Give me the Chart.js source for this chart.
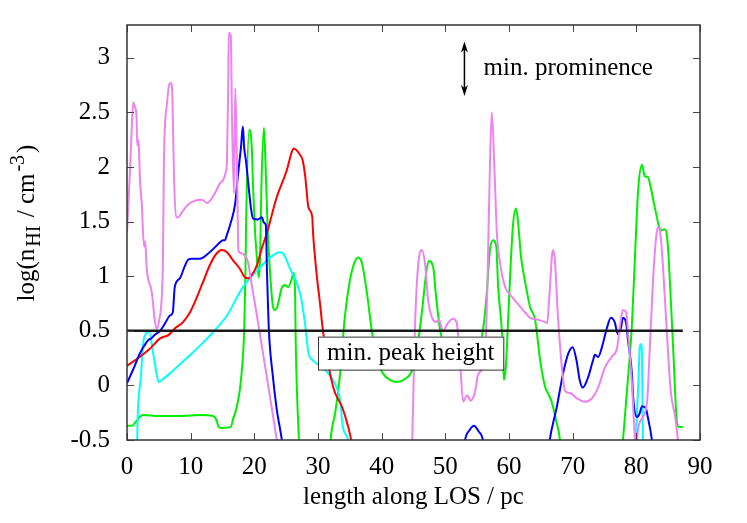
<!DOCTYPE html>
<html>
<head>
<meta charset="utf-8">
<script src="https://cdn.jsdelivr.net/npm/chart.js@4/dist/chart.umd.min.js"></script>
<style>
  html, body { margin: 0; padding: 0; background: #fff; }
  #wrap { width: 747px; height: 523px; }
</style>
</head>
<body>
<div id="wrap"><canvas id="chart" width="747" height="523"></canvas></div>
<script>
// tick values
const xTicks = [0, 10, 20, 30, 40, 50, 60, 70, 80, 90];
const yTicks = [-0.5, 0, 0.5, 1, 1.5, 2, 2.5, 3];

// curves, [length (pc), log n]
const violet = [
  [0, 1.40], [0.5, 2.0], [0.8, 2.43], [1.0, 2.59], [1.26, 2.55], [1.5, 2.45], [1.6, 2.2], [1.73, 2.25], [1.85, 2.2],
  [2.04, 1.88], [2.36, 1.63], [2.5, 1.42], [2.7, 1.27], [2.85, 1.32], [3.1, 1.07], [3.9, 0.85], [4.4, 0.58], [4.7, 0.52],
  [5.0, 0.58], [5.5, 0.85], [5.65, 1.17], [5.8, 2.06], [6.3, 2.59], [6.6, 2.75], [6.9, 2.77], [7.1, 2.7], [7.2, 2.43],
  [7.4, 1.88], [7.7, 1.54], [8.0, 1.54], [8.8, 1.6], [9.9, 1.67], [11.8, 1.70], [12.6, 1.67], [13.8, 1.76], [14.6, 1.85],
  [15.1, 1.88], [15.5, 1.95], [15.7, 2.06], [15.9, 2.73], [16.0, 3.23], [16.3, 3.2], [16.5, 2.43], [16.8, 1.76], [17.0, 2.72],
  [17.2, 2.28], [17.4, 1.51], [17.5, 1.24], [17.9, 1.21], [18.5, 1.19], [19.0, 1.13], [19.6, 0.92], [20.4, 0.64], [21.4, 0.28],
  [22.5, -0.12], [23.5, -0.49], [24.5, -0.9],
  [44.2, -0.9], [44.8, -0.5], [45.2, 0.48], [45.7, 1.08], [46.3, 1.24], [46.8, 1.12], [47.3, 0.78], [47.9, 0.62], [48.6, 0.58],
  [49.0, 0.6], [49.6, 0.5], [50.4, 0.57], [51.2, 0.61], [51.8, 0.57], [52.3, 0.23], [52.8, -0.15], [53.4, -0.09], [54.0, -0.14],
  [54.7, -0.05], [55.1, 0.09], [55.7, 0.14], [56.2, 0.25], [56.6, 0.9], [57.0, 2.0], [57.3, 2.5], [57.7, 2.0], [58.1, 1.39],
  [58.6, 1.12], [59.4, 0.9], [60.2, 0.83], [60.9, 0.78], [62.2, 0.69], [63.3, 0.62], [64.6, 0.6], [65.7, 0.58], [66.0, 0.57],
  [66.3, 0.78], [66.9, 1.24], [67.2, 1.15], [67.7, 0.62], [68.3, 0.17], [68.8, -0.05], [69.6, -0.07], [70.7, -0.12], [71.9, -0.15],
  [73.0, -0.12], [74.0, -0.02], [75.1, 0.17], [76.1, 0.26], [77.0, 0.35], [77.4, 0.53], [77.9, 0.69], [78.4, 0.67], [78.7, 0.48],
  [79.3, 0.02], [79.8, -0.5], [80.0, -0.56], [80.3, -0.39], [81.0, -0.29], [81.7, -0.14], [82.1, 0.32], [82.6, 0.94], [83.1, 1.35],
  [83.4, 1.45], [83.7, 1.42], [84.2, 1.08], [84.8, 0.48], [85.4, -0.05], [86.1, -0.29], [86.5, -0.48], [87.0, -0.8]
];

const blue = [
  [0, 0.02], [1.0, 0.15], [2.0, 0.29], [3.0, 0.39], [3.45, 0.42], [3.8, 0.43], [4.3, 0.46], [5.2, 0.5], [6.0, 0.57],
  [6.75, 0.64], [7.2, 0.67], [7.5, 0.9], [8.3, 0.98], [9.0, 1.08], [9.6, 1.15], [10.2, 1.16], [11.5, 1.16], [13.0, 1.22],
  [14.1, 1.28], [15.1, 1.33], [15.4, 1.33], [15.7, 1.38], [16.2, 1.47], [17.0, 1.67], [17.4, 1.91], [17.9, 2.18], [18.2, 2.37],
  [18.4, 2.18], [18.7, 2.05], [19.0, 1.88], [19.5, 1.61], [19.8, 1.53], [20.6, 1.52], [21.2, 1.54], [21.5, 1.49], [21.8, 1.47],
  [22.0, 1.01], [22.3, 0.49], [22.9, 0.09], [23.5, -0.21], [24.3, -0.49], [25.0, -0.8],
  [52.5, -0.8], [53.1, -0.5], [53.8, -0.41], [54.5, -0.37], [55.2, -0.42], [55.9, -0.5], [56.5, -0.8],
  [65.8, -0.8], [66.4, -0.5], [67.5, -0.2], [68.5, 0.11], [69.3, 0.29], [70.0, 0.35], [70.6, 0.23], [71.1, 0.05], [71.6, -0.02],
  [72.4, 0.07], [73.2, 0.23], [73.5, 0.28], [74.0, 0.26], [74.6, 0.35], [75.4, 0.53], [76.0, 0.62], [76.6, 0.58], [77.1, 0.47],
  [77.6, 0.53], [77.9, 0.62], [78.4, 0.57], [78.7, 0.41], [79.3, 0.11], [79.5, -0.11], [80.1, -0.29], [80.5, -0.26], [80.9, -0.19],
  [81.5, -0.21], [81.8, -0.29], [82.4, -0.48], [83.0, -0.8]
];

const red = [
  [0, 0.18], [2.0, 0.26], [3.5, 0.33], [5.2, 0.43], [6.5, 0.46], [7.5, 0.52], [8.8, 0.58], [9.9, 0.67], [11.0, 0.81],
  [11.9, 0.94], [13.0, 1.1], [14.1, 1.21], [14.9, 1.24], [15.7, 1.22], [16.6, 1.15], [17.7, 1.07], [18.5, 0.99], [19.0, 0.98],
  [19.6, 1.01], [20.4, 1.1], [21.2, 1.26], [22.0, 1.4], [23.5, 1.72], [25.1, 1.97], [25.9, 2.14], [26.2, 2.17], [27.2, 2.11],
  [27.6, 2.06], [28.0, 1.91], [28.5, 1.63], [29.1, 1.54], [29.2, 1.42], [29.8, 1.01], [30.3, 0.76], [30.8, 0.49], [32.4, -0.02],
  [33.8, -0.2], [34.6, -0.35], [35.2, -0.5], [35.8, -0.8]
];

const cyan = [
  [1.2, -0.8], [1.6, -0.49], [1.7, -0.25], [2.2, 0.09], [2.5, 0.37], [3.1, 0.48], [3.5, 0.49], [4.1, 0.3], [4.7, 0.09],
  [5.0, 0.03], [5.7, 0.06], [6.75, 0.11], [9.4, 0.25], [12.6, 0.43], [15.7, 0.64], [18.2, 0.9], [20.9, 1.08], [22.9, 1.19],
  [24.0, 1.22], [24.5, 1.21], [25.6, 1.07], [27.2, 0.84], [28.0, 0.55], [28.5, 0.3], [29.2, 0.23], [30.3, 0.18], [31.9, 0.09],
  [33.0, -0.03], [33.5, -0.14], [33.9, -0.38], [34.7, -0.5], [35.3, -0.8],
  [79.6, -0.8], [79.9, -0.5], [80.3, 0.0], [80.55, 0.36], [80.7, 0.38], [80.85, 0.34], [81.05, -0.5], [81.3, -0.8]
];

const green = [
  [0, -0.37], [0.8, -0.37], [1.3, -0.34], [2.0, -0.29], [2.5, -0.27], [5.0, -0.28], [8.0, -0.28], [11.5, -0.27], [13.5, -0.28],
  [14.0, -0.31], [14.4, -0.38], [15.0, -0.39], [16.3, -0.38], [16.7, -0.3], [17.0, -0.25], [17.3, -0.18], [17.7, -0.05],
  [18.1, 0.18], [18.4, 0.49], [18.6, 1.01], [18.7, 1.47], [19.2, 2.34], [19.6, 2.18], [19.8, 1.82], [20.1, 1.42], [20.4, 1.17],
  [20.7, 0.99], [20.9, 1.17], [21.1, 1.8], [21.5, 2.36], [21.7, 2.13], [22.1, 1.42], [22.5, 1.01], [22.9, 0.73], [23.2, 0.69],
  [23.6, 0.72], [24.3, 0.89], [24.8, 0.92], [25.3, 0.9], [25.9, 0.98], [26.1, 1.03], [26.4, 0.85], [26.5, 0.39], [26.7, -0.06],
  [27.0, -0.49], [27.3, -0.8],
  [31.7, -0.8], [32.0, -0.49], [32.7, -0.25], [33.5, 0.12], [34.2, 0.62], [35.0, 0.96], [35.7, 1.12], [36.3, 1.17], [36.9, 1.12],
  [37.7, 0.84], [38.5, 0.48], [39.3, 0.23], [40.2, 0.11], [41.3, 0.05], [42.4, 0.03], [43.7, 0.06], [44.8, 0.14], [45.6, 0.35],
  [46.3, 0.66], [47.0, 1.03], [47.4, 1.14], [48.1, 1.08], [48.5, 0.84], [49.2, 0.5], [50.0, 0.33], [51.5, 0.22], [53.0, 0.2],
  [54.5, 0.25], [55.3, 0.38], [55.9, 0.5], [56.5, 0.84], [57.0, 1.24], [57.5, 1.33], [58.0, 1.27], [58.3, 0.9], [58.9, 0.48],
  [59.2, 0.05], [59.5, 0.17], [60.0, 0.78], [60.6, 1.45], [61.1, 1.62], [61.4, 1.51], [61.9, 1.17], [62.5, 0.96], [63.3, 0.72],
  [64.1, 0.6], [64.9, 0.23], [65.7, -0.02], [66.1, -0.07], [66.7, -0.15], [67.4, -0.32], [68.0, -0.5], [68.4, -0.8],
  [77.5, -0.8], [77.9, -0.5], [78.6, 0.0], [79.3, 0.55], [79.8, 1.2], [80.3, 1.8], [80.9, 2.02], [81.2, 1.94], [81.4, 1.91],
  [81.8, 1.91], [82.3, 1.8], [82.9, 1.63], [83.6, 1.45], [84.0, 1.42], [84.4, 1.43], [84.7, 1.41], [85.0, 1.24], [85.4, 0.8],
  [85.8, 0.32], [86.4, -0.35], [86.7, -0.38], [87.3, -0.38]
];

// threshold line (min. peak height)
const peakHeight = [[0, 0.5], [87.3, 0.5]];

// annotation positions in data units
const peakLabel = { x: 30, y: 0.3, text: "min. peak height" };
const promArrow = { x: 53, from: 2.65, to: 3.15 };
const promLabel = { x: 56, y: 2.9, text: "min. prominence" };

const FONT = "'Liberation Serif', 'Times New Roman', serif";

const pts = arr => arr.map(p => ({ x: p[0], y: p[1] }));
const line = (data, color, width) => ({
  data: pts(data), borderColor: color, borderWidth: width || 2,
  pointRadius: 0, cubicInterpolationMode: "monotone", fill: false
});

// frame, inward ticks, labels, y title
const decor = {
  id: "decor",
  afterDatasetsDraw(chart) {
    const { ctx, chartArea: a, scales: { x, y } } = chart;
    ctx.save();

    // peak height label box
    ctx.font = "25px " + FONT;
    const bx = x.getPixelForValue(peakLabel.x);
    const by = y.getPixelForValue(peakLabel.y);
    const tw = ctx.measureText(peakLabel.text).width;
    ctx.fillStyle = "#fff";
    ctx.fillRect(bx, by - 16, tw + 18, 33);
    ctx.strokeStyle = "#333";
    ctx.lineWidth = 1;
    ctx.strokeRect(bx + 0.5, by - 16 + 0.5, tw + 18, 33);
    ctx.fillStyle = "#000";
    ctx.textBaseline = "middle";
    ctx.textAlign = "left";
    ctx.fillText(peakLabel.text, bx + 9, by + 1);

    // prominence arrow
    const ax = x.getPixelForValue(promArrow.x);
    const a1 = y.getPixelForValue(promArrow.from);
    const a2 = y.getPixelForValue(promArrow.to);
    ctx.strokeStyle = "#000";
    ctx.fillStyle = "#000";
    ctx.lineWidth = 1.5;
    ctx.beginPath();
    ctx.moveTo(ax, a1 - 4);
    ctx.lineTo(ax, a2 + 4);
    ctx.stroke();
    [[a2, 1], [a1, -1]].forEach(([py, d]) => {
      ctx.beginPath();
      ctx.moveTo(ax, py);
      ctx.lineTo(ax - 3.5, py + d * 11);
      ctx.lineTo(ax, py + d * 8);
      ctx.lineTo(ax + 3.5, py + d * 11);
      ctx.closePath();
      ctx.fill();
    });
    ctx.fillText(promLabel.text, x.getPixelForValue(promLabel.x), y.getPixelForValue(promLabel.y));

    // inward ticks on all four sides
    ctx.strokeStyle = "#444";
    ctx.lineWidth = 1;
    ctx.beginPath();
    xTicks.forEach(v => {
      const px = Math.round(x.getPixelForValue(v)) + 0.5;
      ctx.moveTo(px, a.bottom); ctx.lineTo(px, a.bottom - 7);
      ctx.moveTo(px, a.top); ctx.lineTo(px, a.top + 7);
    });
    yTicks.forEach(v => {
      const py = Math.round(y.getPixelForValue(v)) + 0.5;
      ctx.moveTo(a.left, py); ctx.lineTo(a.left + 7, py);
      ctx.moveTo(a.right, py); ctx.lineTo(a.right - 7, py);
    });
    ctx.stroke();

    // frame
    ctx.strokeStyle = "#333";
    ctx.lineWidth = 1.5;
    ctx.strokeRect(a.left, a.top, a.right - a.left, a.bottom - a.top);

    // y axis title with sub/superscript
    const parts = [
      { t: "log(n", s: 25, dy: 0 },
      { t: "HI", s: 20, dy: 6 },
      { t: " / cm", s: 25, dy: 0 },
      { t: "-3", s: 20, dy: -10 },
      { t: ")", s: 25, dy: 0 }
    ];
    let total = 0;
    parts.forEach(p => { ctx.font = p.s + "px " + FONT; p.w = ctx.measureText(p.t).width; total += p.w; });
    ctx.translate(34, 227);
    ctx.rotate(-Math.PI / 2);
    ctx.textBaseline = "alphabetic";
    ctx.fillStyle = "#000";
    let cx = -total / 2;
    parts.forEach(p => {
      ctx.font = p.s + "px " + FONT;
      ctx.fillText(p.t, cx, p.dy);
      cx += p.w + 2;
    });
    ctx.restore();
  }
};

new Chart(document.getElementById("chart"), {
  type: "line",
  data: {
    datasets: [
      line(peakHeight, "#1a1a1a", 2.5),
      line(violet, "#ee82ee"),
      line(blue, "#0000ff"),
      line(red, "#ff0000"),
      line(cyan, "#00ffff"),
      line(green, "#00ee00")
    ]
  },
  options: {
    responsive: false,
    animation: false,
    layout: { padding: { left: 0, right: 47, top: 25, bottom: 0 } },
    plugins: { legend: { display: false }, tooltip: { enabled: false } },
    scales: {
      x: {
        type: "linear", min: 0, max: 90,
        afterFit: s => { s.height = 83; s.paddingLeft = 0; s.paddingRight = 0; },
        afterBuildTicks: s => { s.ticks = xTicks.map(v => ({ value: v })); },
        grid: { display: false, drawTicks: false },
        border: { display: false },
        ticks: { padding: 12, color: "#000", font: { family: FONT, size: 25 }, maxRotation: 0, autoSkip: false },
        title: { display: true, text: "length along LOS / pc", color: "#000",
                 font: { family: FONT, size: 25 }, padding: { top: 0, bottom: 11 } }
      },
      y: {
        type: "linear", min: -0.5, max: 3.3,
        afterFit: s => { s.width = 127; s.paddingTop = 0; s.paddingBottom = 0; },
        afterBuildTicks: s => { s.ticks = yTicks.map(v => ({ value: v })); },
        grid: { display: false, drawTicks: false },
        border: { display: false },
        ticks: { padding: 17, color: "#000", font: { family: FONT, size: 25 }, autoSkip: false,
                 callback: v => String(v) }
      }
    }
  },
  plugins: [decor]
});
</script>
</body>
</html>
